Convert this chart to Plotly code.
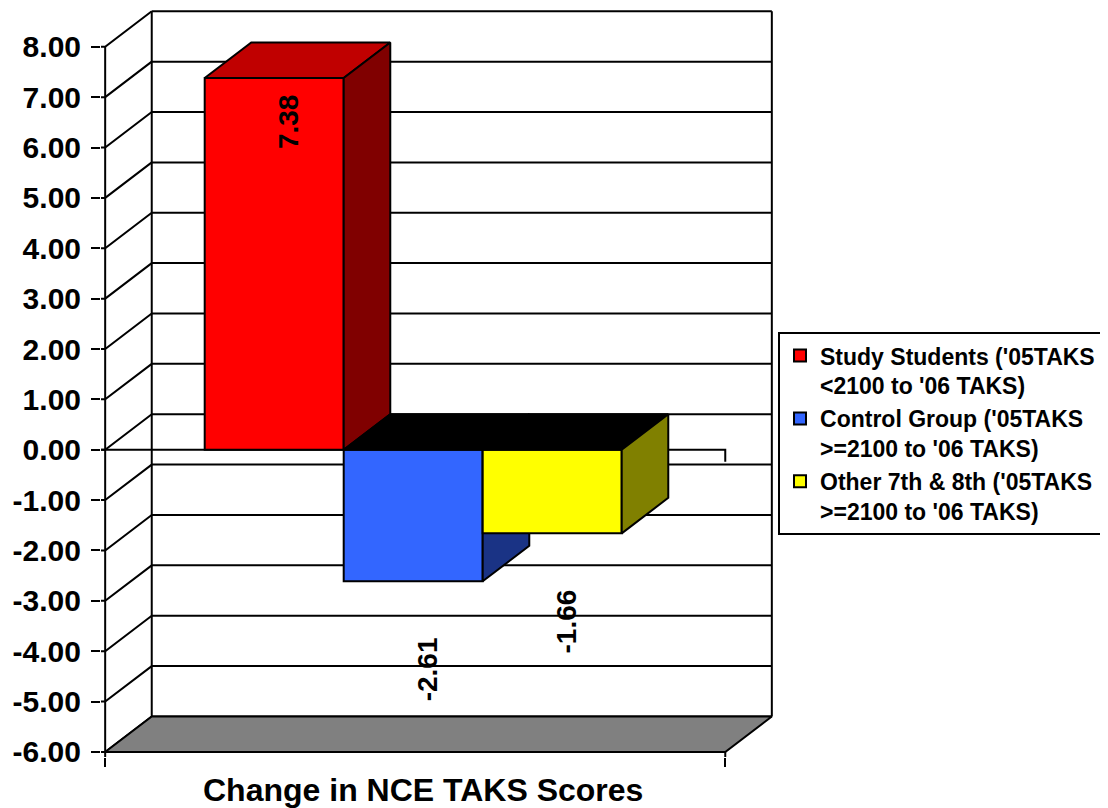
"""3D-look bar chart: change in NCE TAKS scores for three student groups."""
import plotly.graph_objects as go

# data
groups = ["Study Students ('05TAKS<br>&lt;2100 to '06 TAKS)",
          "Control Group ('05TAKS<br>&gt;=2100 to '06 TAKS)",
          "Other 7th &amp; 8th ('05TAKS<br>&gt;=2100 to '06 TAKS)"]
changes = [7.38, -2.61, -1.66]
y_ticks = [-6, -5, -4, -3, -2, -1, 0, 1, 2, 3, 4, 5, 6, 7, 8]
x_title = "Change in NCE TAKS Scores"

# styles
FRONT = ["#ff0000", "#3366ff", "#ffff00"]
SIDE = ["#800000", "#1a3385", "#808000"]
TOP_UP = ["#c00000", "#c00000", "#c00000"]
FONT = "Arial, 'Liberation Sans', sans-serif"

# geometry of the 3D box (category units / value units)
XL, XR = -1.216, 3.245
DX, DY = 0.335, 0.705
X_PAD = 0.03
Y_LO, Y_HI = -6.1, 8.75
Y_MIN, Y_MAX = y_ticks[0], y_ticks[-1]

line = dict(color="black", width=2)


def poly(xs, ys, color, z):
    """Closed filled polygon in data coordinates."""
    return go.Scatter(x=xs + [xs[0]], y=ys + [ys[0]], fill="toself", fillcolor=color,
                      mode="lines", line=line, hoverinfo="skip", showlegend=False,
                      zorder=z)


def lines(xs, ys, z=0):
    return go.Scatter(x=xs, y=ys, mode="lines", line=line, hoverinfo="skip",
                      showlegend=False, zorder=z)


fig = go.Figure()

# back wall grid + left wall diagonals
gx, gy, lx, ly = [], [], [], []
for v in y_ticks:
    gx += [XL + DX, XR + DX, None]
    gy += [v + DY, v + DY, None]
    lx += [XL - X_PAD, XL, XL + DX, None]
    ly += [v, v, v + DY, None]
gx += [XL + DX, XL + DX, None, XR + DX, XR + DX]
gy += [Y_MIN + DY, Y_MAX + DY, None, Y_MIN + DY, Y_MAX + DY]
fig.add_trace(lines(gx, gy))
fig.add_trace(lines(lx, ly))

# floor
fig.add_trace(poly([XL, XL + DX, XR + DX, XR], [Y_MIN, Y_MIN + DY, Y_MIN + DY, Y_MIN],
                   "#808080", 0))

# front axis lines and zero line
fig.add_trace(lines([XL, XL, None, XR, XR], [Y_MAX, Y_LO, None, Y_MIN, Y_LO]))
fig.add_trace(lines([XL - X_PAD, XR, XR], [0, 0, -0.24]))

# bars, back to front
for i, (name, v) in enumerate(zip(groups, changes)):
    z = i + 1
    x0, x1 = i - 0.5, i + 0.5
    top = max(v, 0)
    top_col = TOP_UP[i] if v >= 0 else "#000000"
    fig.add_trace(poly([x0, x0 + DX, x1 + DX, x1], [top, top + DY, top + DY, top], top_col, z))
    fig.add_trace(poly([x1, x1 + DX, x1 + DX, x1], [0, DY, v + DY, v], SIDE[i], z))
    fig.add_trace(go.Bar(x=[i], y=[v], width=1, name=name, zorder=z,
                         marker=dict(color=FRONT[i], line=line), hoverinfo="skip"))
    fig.add_annotation(x=i + 0.1, y=v, yshift=-44 if v > 0 else -88,
                       text=f"{v:.2f}", textangle=-90, showarrow=False,
                       font=dict(family=FONT, size=28, color="black", weight="bold"))

fig.add_annotation(x=(XL + XR) / 2, xshift=8, y=-0.044, yref="paper", text=x_title,
                   showarrow=False, yanchor="middle",
                   font=dict(family=FONT, size=32, color="black", weight="bold"))

fig.update_xaxes(range=[XL - X_PAD, XR + DX + X_PAD], showgrid=False, zeroline=False,
                 showline=False, showticklabels=False, ticks="outside",
                 tickvals=[XL, XR], ticklen=9, tickwidth=2, tickcolor="black")
fig.update_yaxes(range=[Y_LO, Y_HI], showgrid=False, zeroline=False, showline=False,
                 tickvals=y_ticks, ticktext=[f"{t:.2f}" for t in y_ticks],
                 ticks="outside", ticklen=9, tickwidth=2, tickcolor="black",
                 ticklabelstandoff=4,
                 tickfont=dict(family=FONT, size=30, color="black", weight="bold"))

# the page adds an 8px body margin, so the figure is 8px smaller than the window
fig.update_layout(
    width=1100, height=800, barmode="overlay",
    margin=dict(l=93, r=332, t=1, b=51, autoexpand=False),
    paper_bgcolor="white", plot_bgcolor="white",
    legend=dict(x=1.003, y=0.568, xanchor="left", yanchor="top", valign="top",
                bordercolor="black", borderwidth=2, bgcolor="white",
                font=dict(family=FONT, size=23, color="black", weight="bold")),
)

fig.write_html("out.html")
